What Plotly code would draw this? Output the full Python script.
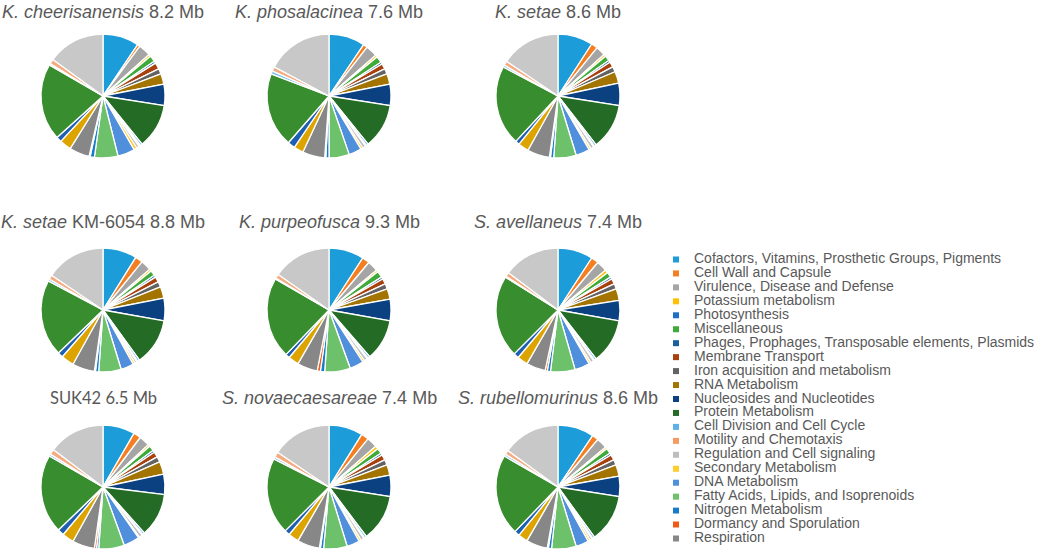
import plotly.graph_objects as go

# RAST subsystem categories, in the order the slices are drawn (clockwise from 12 o'clock)
categories = [
    "Cofactors, Vitamins, Prosthetic Groups, Pigments",
    "Cell Wall and Capsule",
    "Virulence, Disease and Defense",
    "Potassium metabolism",
    "Photosynthesis",
    "Miscellaneous",
    "Phages, Prophages, Transposable elements, Plasmids",
    "Membrane Transport",
    "Iron acquisition and metabolism",
    "RNA Metabolism",
    "Nucleosides and Nucleotides",
    "Protein Metabolism",
    "Cell Division and Cell Cycle",
    "Motility and Chemotaxis",
    "Regulation and Cell signaling",
    "Secondary Metabolism",
    "DNA Metabolism",
    "Fatty Acids, Lipids, and Isoprenoids",
    "Nitrogen Metabolism",
    "Dormancy and Sporulation",
    "Respiration",
    "Stress Response",
    "Metabolism of Aromatic Compounds",
    "Amino Acids and Derivatives",
    "Sulfur Metabolism",
    "Phosphorus Metabolism",
    "Carbohydrates",
]
n_legend = 21  # the legend in the original only lists the first 21

colors = [
    "#1C9CD8", "#F47F22", "#A5A5A5", "#FFC000", "#1F6FC5", "#3FAA3A",
    "#1A5F9C", "#A9410F", "#636363", "#A37400", "#0B4180", "#246B26",
    "#5DB1E4", "#F79A62", "#BEBEBE", "#FFCC2E", "#4F8FDB", "#6CC16A",
    "#177BC9", "#F05A16", "#878787", "#DDA400", "#1E5FB0", "#388E2F",
    "#85C4EC", "#F6AA80", "#C8C8C8",
]

# genome titles
species = ["K. cheerisanensis", "K. phosalacinea", "K. setae",
           "K. setae", "K. purpeofusca", "S. avellaneus",
           "", "S. novaecaesareae", "S. rubellomurinus"]
strain = ["", "", "", " KM-6054", "", "", "SUK42", "", ""]
genome_mb = [8.2, 7.6, 8.6, 8.8, 9.3, 7.4, 6.5, 7.4, 8.6]

# relative sizes of each subsystem
cheerisanensis = [34, 2.5, 11.5, 2, 0, 6, 2, 6, 5, 10, 20, 42, 2, 1.5, 2.5, 3, 16, 22, 4, 1, 19, 11, 5, 72, 1.5, 4.5, 54]
phosalacinea = [34, 4, 11, 2, 0, 6, 2, 5, 5, 10, 20, 42, 2, 1, 3, 2, 12, 19, 3, 1, 21, 9, 7, 70, 3, 4, 62]
setae = [33, 6, 9, 2, 0, 5, 2, 5, 5, 11, 21, 43, 2, 1, 3, 2, 13, 21, 3, 1, 21, 10, 4, 75, 2, 4, 56]
setae_km6054 = [32, 7, 10, 2, 0, 5, 2, 5, 5, 11, 21, 44, 2, 1, 2, 2, 12, 21, 3, 1, 21, 12, 5, 72, 2, 4, 56]
purpeofusca = [33, 7, 10, 2, 0, 6, 2, 5, 5, 10, 20, 39, 2, 1, 3, 2, 13, 24, 4, 3, 19, 10, 4, 76, 1, 4, 55]
avellaneus = [33, 7, 10, 3, 0, 5, 2, 5, 5, 11, 19, 42, 2, 1, 3, 2, 14, 23, 3, 2, 18, 10, 5, 77, 1, 4, 53]
suk42 = [30, 7, 10, 2, 0, 5, 2, 5, 5, 12, 19, 41, 2, 1, 3, 1, 15, 24, 2, 2, 21, 11, 6, 74, 2, 5, 53]
novaecaesareae = [32, 7, 10, 3, 0, 5, 2, 5, 5, 10, 20, 44, 2, 1, 3, 2, 12, 22, 3, 1, 21, 10, 5, 72, 2, 5, 56]
rubellomurinus = [34, 6, 10, 2, 0, 5, 2, 5, 5, 11, 19, 45, 2, 1, 2, 2, 12, 23, 3, 1, 20, 9, 5, 76, 2, 4, 54]

genomes = [cheerisanensis, phosalacinea, setae,
           setae_km6054, purpeofusca, avellaneus,
           suk42, novaecaesareae, rubellomurinus]

W, H = 1045, 551
col_x = [103, 329, 558]
row_y = [96, 310, 487]
title_y = [12, 222, 398]
R = 62

fig = go.Figure()
annotations = []
for i, vals in enumerate(genomes):
    r, c = divmod(i, 3)
    cx, cy = col_x[c], row_y[r]
    fig.add_trace(go.Pie(
        values=vals,
        labels=categories,
        sort=False,
        direction="clockwise",
        rotation=0,
        textinfo="none",
        hoverinfo="label+percent",
        showlegend=False,
        marker=dict(colors=colors, line=dict(color="white", width=1.3)),
        domain=dict(x=[(cx - R) / W, (cx + R) / W],
                    y=[1 - (cy + R) / H, 1 - (cy - R) / H]),
    ))
    if species[i]:
        txt = "<i>%s</i>%s %.1f Mb" % (species[i], strain[i], genome_mb[i])
        fam, fs = "Liberation Sans", 18
    else:
        txt = "%s %.1f Mb" % (strain[i], genome_mb[i])
        fam, fs = "Lato", 16.5
    annotations.append(dict(
        text=txt, xref="paper", yref="paper",
        x=cx / W, y=1 - title_y[r] / H,
        xanchor="center", yanchor="middle", showarrow=False,
        font=dict(family=fam, size=fs, color="#595959"),
    ))

# legend drawn as a small scatter on its own hidden axes
idx = list(range(n_legend))
fig.add_trace(go.Scatter(
    x=[6] * n_legend, y=idx, mode="markers",
    marker=dict(symbol="square", size=6, color=colors[:n_legend]),
    hoverinfo="skip", showlegend=False,
))
fig.add_trace(go.Scatter(
    x=[24] * n_legend, y=idx, mode="text",
    text=categories[:n_legend], textposition="middle right",
    textfont=dict(family="Liberation Sans", size=14, color="#595959"),
    hoverinfo="skip", showlegend=False,
))

fig.update_layout(
    width=W, height=H,
    margin=dict(l=0, r=0, t=0, b=0),
    paper_bgcolor="white", plot_bgcolor="white",
    annotations=annotations,
    xaxis=dict(domain=[670 / W, 1.0], range=[0, 375], visible=False, fixedrange=True),
    yaxis=dict(domain=[1 - 545.5 / H, 1 - 252.5 / H], range=[20.5, -0.5],
               visible=False, fixedrange=True),
)

fig.write_html("out.html", config={"displayModeBar": False},
               post_script="document.body.style.margin='0';")
